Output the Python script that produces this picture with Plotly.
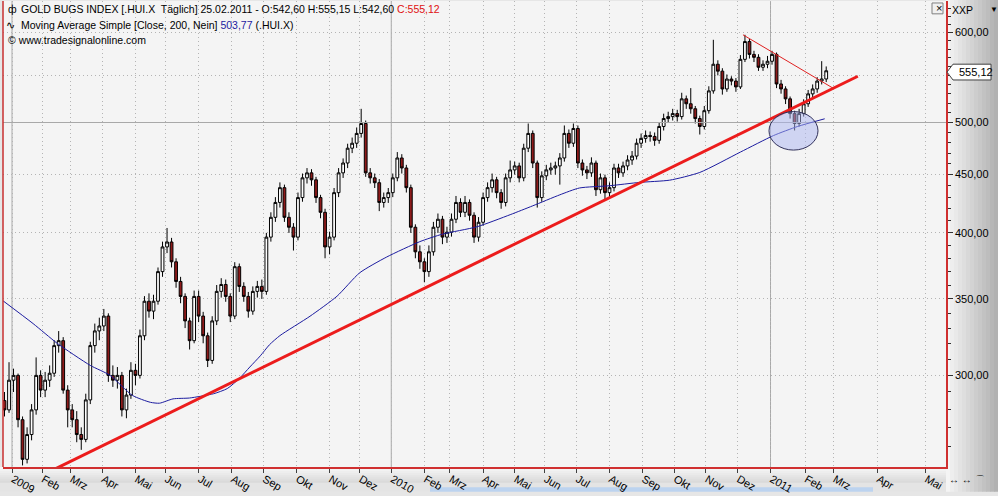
import numpy as np
import plotly.graph_objects as go

# ---------------- data ----------------
# bars: one candle per 3 trading days, starting at trading day -5 (late Dec 2008)
first_bar_day = -5
bar_step = 3
first_open = 285.0
closes = [279.7, 297.0, 299.9, 274.2, 253.1, 266.1, 279.7, 299.9, 291.1, 297.0,
          301.2, 318.5, 321.7, 291.1, 279.7, 274.2, 266.1, 263.5, 285.4, 318.5,
          328.1, 331.4, 338.1, 299.9, 297.0, 299.9, 279.7, 288.2, 303.0, 299.9,
          324.9, 348.4, 341.5, 348.4, 369.9, 388.8, 392.7, 377.3, 362.6, 351.8,
          334.8, 321.7, 351.8, 338.1, 324.9, 309.1, 334.8, 355.4, 360.4, 351.8,
          338.1, 373.6, 359.0, 351.8, 341.5, 355.4, 359.0, 355.4, 396.6, 412.8,
          425.4, 438.3, 412.8, 404.6, 396.6, 429.6, 447.1, 451.6, 445.3, 429.6,
          417.0, 388.8, 396.6, 433.9, 451.6, 460.7, 474.7, 479.5, 489.1, 499.0,
          451.6, 447.1, 442.7, 425.4, 429.6, 433.9, 447.1, 465.4, 456.1, 438.3,
          404.6, 385.0, 377.3, 369.9, 385.0, 404.6, 411.2, 396.6, 400.6, 411.2,
          425.4, 417.0, 425.4, 414.5, 396.6, 408.7, 429.6, 438.3, 445.3, 433.9,
          425.4, 447.1, 454.3, 458.0, 447.1, 474.7, 489.1, 460.7, 429.6, 448.9,
          454.3, 456.1, 458.0, 465.4, 489.1, 479.5, 494.0, 460.7, 454.3, 451.6,
          460.7, 436.5, 447.1, 433.9, 438.3, 456.1, 451.6, 458.0, 463.5, 467.2,
          479.5, 484.2, 487.1, 486.1, 482.3, 496.0, 504.0, 506.0, 509.1, 506.0,
          524.5, 519.3, 514.1, 504.0, 496.0, 512.1, 533.0, 562.5, 554.7, 535.1,
          545.9, 543.7, 537.3, 568.1, 588.9, 573.8, 570.4, 559.1, 562.5, 565.9,
          573.8, 540.5, 535.1, 524.5, 509.1, 499.0, 509.1, 519.3, 529.8, 535.1,
          543.7, 546.0, 555.12]
highs = [290, 308, 304, 301, 276, 270, 283, 311, 303, 302,
         306, 322, 328, 324, 294, 283, 279, 270, 289, 321,
         333, 337, 343, 340, 306, 305, 302, 292, 308, 307,
         329, 352, 354, 353, 373, 393, 404, 396, 380, 366,
         354, 337, 356, 356, 341, 327, 338, 360, 365, 364,
         354, 377, 376, 362, 355, 359, 363, 364, 400, 417,
         430, 443, 441, 417, 408, 434, 451, 456, 455, 448,
         432, 420, 401, 438, 456, 465, 479, 485, 495, 514,
         502, 456, 451, 446, 434, 438, 451, 471, 469, 459,
         441, 407, 390, 380, 390, 409, 416, 414, 405, 416,
         431, 429, 431, 428, 417, 413, 434, 443, 451, 448,
         437, 451, 463, 462, 461, 479, 499, 492, 463, 453,
         459, 461, 462, 470, 497, 493, 499, 497, 464, 458,
         466, 463, 451, 450, 443, 460, 460, 462, 468, 472,
         484, 489, 492, 491, 490, 500, 509, 511, 514, 513,
         531, 528, 536, 517, 507, 517, 538, 591, 567, 558,
         551, 549, 547, 573, 597, 592, 578, 574, 567, 572,
         578, 576, 545, 538, 527, 512, 514, 524, 534, 540,
         548, 566, 560]
lows = [276, 278, 290, 270, 250, 251, 263, 277, 287, 287,
        293, 299, 314, 289, 270, 270, 262, 258, 262, 283,
        314, 322, 328, 296, 293, 292, 276, 275, 286, 294,
        298, 322, 337, 336, 346, 366, 384, 373, 358, 347,
        330, 316, 320, 334, 320, 305, 307, 332, 351, 348,
        334, 336, 355, 348, 337, 339, 351, 350, 353, 393,
        409, 421, 409, 400, 386, 394, 426, 442, 440, 425,
        412, 380, 383, 394, 430, 447, 456, 470, 475, 485,
        448, 442, 438, 418, 421, 425, 430, 444, 451, 434,
        400, 380, 372, 362, 366, 382, 400, 391, 392, 397,
        408, 413, 413, 410, 392, 393, 406, 426, 434, 429,
        420, 422, 443, 450, 443, 444, 471, 456, 421, 426,
        445, 450, 450, 441, 462, 475, 476, 456, 449, 446,
        448, 431, 433, 428, 430, 435, 447, 448, 454, 459,
        464, 475, 480, 481, 477, 479, 492, 500, 502, 501,
        503, 514, 509, 499, 488, 493, 509, 530, 550, 529,
        532, 539, 532, 535, 565, 569, 565, 555, 555, 558,
        562, 536, 530, 519, 504, 492, 496, 506, 516, 525,
        531, 540, 542.6]

# 200-day simple moving average (trading day, value)
ma_day = [-7, 14, 30, 52, 65, 80, 92, 98, 107, 118, 134, 143, 151, 158, 165, 171, 178,
          198, 216, 231, 249, 271, 286, 309, 331, 346, 364, 377, 397, 417, 437, 457,
          484, 506, 522, 540]
ma_val = [349.5, 333, 320, 306, 300, 288, 284, 283.5, 286, 286.5, 289, 292, 298, 305,
          312, 319, 325, 338, 352, 369, 381, 393, 399, 405, 415, 422.5, 432, 438, 440,
          443, 445, 452, 471, 487, 496, 503.77]

# drawn trend lines
trend_day = [28, 562]
trend_val = [248.0, 549.0]
down_day = [485.7, 545.5]
down_val = [597.0, 536.0]
hline_day = [-6, 620.6]
hline_val = [500, 500]

# axis ticks
month_day = [0, 20, 39, 60, 82, 102, 124, 146, 167, 189, 211, 231, 252, 274, 291, 313,
             334, 354, 375, 397, 419, 440, 461, 482, 504, 527, 546, 575, 607]
month_lbl = ["2009", "Feb", "Mrz", "Apr", "Mai", "Jun", "Jul", "Aug", "Sep", "Okt", "Nov",
             "Dez", "2010", "Feb", "Mrz", "Apr", "Mai", "Jun", "Jul", "Aug", "Sep", "Okt",
             "Nov", "Dez", "2011", "Feb", "Mrz", "Apr", "Mai"]
year_day = [0, 252, 504]
y_ticks = [300, 350, 400, 450, 500, 550, 600]
y_lbl = ["300,00", "350,00", "400,00", "450,00", "500,00", "", "600,00"]
y_minor = [260, 270, 280, 290, 310, 320, 330, 340, 360, 370, 380, 390, 410, 420, 430, 440,
           460, 470, 480, 490, 510, 520, 530, 540, 560, 570, 580, 590, 610, 620, 630]
last_close = 555.12
last_lbl = "555,12"

# ---------------- figure ----------------
W, H = 998, 496
ML, MR, MT, MB = 3, 52, 1, 23
PW, PH = W - ML - MR, H - MT - MB


def px(x):
    return (x - ML) / PW


def py(y):
    return 1 - (y - MT) / PH


bar_x = first_bar_day + bar_step * np.arange(len(closes))
opens = [first_open] + closes[:-1]

fig = go.Figure()
fig.add_trace(go.Scatter(x=hline_day, y=hline_val, mode="lines",
                         line=dict(color="#a8a8a8", width=1), showlegend=False, hoverinfo="skip"))
fig.add_trace(go.Candlestick(
    x=bar_x, open=opens, high=highs, low=lows, close=closes,
    increasing=dict(line=dict(color="black", width=1), fillcolor="white"),
    decreasing=dict(line=dict(color="black", width=1), fillcolor="#8e1a1a"),
    whiskerwidth=0, showlegend=False, hoverinfo="skip"))
fig.add_trace(go.Scatter(x=ma_day, y=ma_val, mode="lines",
                         line=dict(color="#1c1ca0", width=1, shape="spline", smoothing=0.6),
                         showlegend=False, hoverinfo="skip"))
fig.add_trace(go.Scatter(x=trend_day, y=trend_val, mode="lines",
                         line=dict(color="#ec1c1c", width=3), showlegend=False, hoverinfo="skip"))
fig.add_trace(go.Scatter(x=down_day, y=down_val, mode="lines",
                         line=dict(color="#e02020", width=1), showlegend=False, hoverinfo="skip"))

shapes = []
# gradient right panel
n = 13
for i in range(n):
    v = int(244 - i * (244 - 178) / (n - 1))
    x0 = 946 + i * 4
    shapes.append(dict(type="rect", xref="paper", yref="paper", layer="below",
                       x0=px(x0), x1=px(x0 + 4.5), y0=py(H + 2), y1=py(-2),
                       line=dict(width=0), fillcolor=f"rgb({v},{v},{v})"))
# bottom band
for i in range(8):
    v = int(246 - i * 4)
    y0 = 473 + i * 2
    shapes.append(dict(type="rect", xref="paper", yref="paper", layer="below",
                       x0=px(-2), x1=px(946), y0=py(y0 + 2.5), y1=py(y0),
                       line=dict(width=0), fillcolor=f"rgb({v},{v},{v})"))
shapes.append(dict(type="rect", xref="paper", yref="paper", layer="below",
                   x0=px(-2), x1=px(946), y0=py(H + 2), y1=py(489),
                   line=dict(width=0), fillcolor="#e4e4e4"))
shapes.append(dict(type="rect", xref="paper", yref="paper", layer="below",
                   x0=px(430), x1=px(873), y0=py(H + 2), y1=py(493.5),
                   line=dict(width=0), fillcolor="#bcd3ef"))
# solid year lines
for d in year_day:
    shapes.append(dict(type="line", xref="x", yref="paper", layer="below",
                       x0=d, x1=d, y0=0, y1=1, line=dict(color="#a8a8a8", width=1)))
# ellipse (drawn marking)
shapes.append(dict(type="circle", xref="paper", yref="paper", layer="above",
                   x0=px(769), x1=px(818), y0=py(152), y1=py(113),
                   line=dict(color="#30305a", width=1),
                   fillcolor="rgba(170,180,240,0.5)"))
# left border
shapes.append(dict(type="line", xref="paper", yref="paper", x0=0, x1=0, y0=0, y1=1,
                   line=dict(color="#c83030", width=1.5)))
# price marker
ym = py(73)
path = (f"M {px(947)} {ym} L {px(953)} {py(65)} L {px(991)} {py(65)} "
        f"L {px(991)} {py(81)} L {px(953)} {py(81)} Z")
shapes.append(dict(type="path", xref="paper", yref="paper", path=path,
                   line=dict(color="#404040", width=1), fillcolor="white"))
# close box
shapes.append(dict(type="rect", xref="paper", yref="paper",
                   x0=px(932), x1=px(943), y0=py(14), y1=py(3),
                   line=dict(color="#808080", width=1), fillcolor="#f0f0f0"))

F = "Liberation Sans"
ann = []
hdr = ("GOLD BUGS INDEX [.HUI.X  Täglich] 25.02.2011 - O:542,60 H:555,15 L:542,60 "
       "<span style='color:#e01010'>C:555,12</span>")
ann.append(dict(text="ф", x=px(6), y=py(9)))
ann.append(dict(text=hdr, x=px(19), y=py(9)))
ann.append(dict(text="∿", x=px(4), y=py(25)))
ann.append(dict(text="Moving Average Simple [Close, 200, Nein] "
                     "<span style='color:#1c1ca0'>503,77</span> (.HUI.X)", x=px(19), y=py(25)))
ann.append(dict(text="© www.tradesignalonline.com", x=px(6), y=py(41)))
ann.append(dict(text="XXP", x=px(950), y=py(10)))
ann.append(dict(text="▼", x=px(988), y=py(10), size=8))
ann.append(dict(text="×", x=px(933.5), y=py(8.5), size=11))
ann.append(dict(text=last_lbl, x=px(957), y=py(73), size=11))
ann.append(dict(text="↔ ↔ ⌒", x=px(947), y=py(486), size=10))
annotations = []
for a in ann:
    annotations.append(dict(text=a["text"], x=a["x"], y=a["y"], xref="paper", yref="paper",
                            xanchor="left", yanchor="middle", showarrow=False,
                            font=dict(family=F, size=a.get("size", 10.5), color="black")))

fig.update_layout(
    width=W, height=H, margin=dict(l=ML, r=MR, t=MT, b=MB),
    paper_bgcolor="#e6e6e6", plot_bgcolor="#f4f4f4",
    font=dict(family=F, size=11, color="black"),
    boxgap=0.12,
    showlegend=False, shapes=shapes, annotations=annotations,
    xaxis=dict(range=[-6, 620.6], tickmode="array", tickvals=month_day, ticktext=month_lbl,
               ticks="outside", ticklen=4, tickcolor="#404040", ticklabelposition="outside right",
               showgrid=True, gridcolor="#b4b4b4", griddash="1px,3px", gridwidth=1,
               showline=True, linecolor="#d03030", linewidth=1.5, mirror=False,
               zeroline=False, rangeslider=dict(visible=False), fixedrange=True,
               tickfont=dict(family=F, size=11)),
    yaxis=dict(type="log", range=[np.log10(249.2), np.log10(639.2)], side="right",
               tickmode="array", tickvals=y_ticks, ticktext=y_lbl,
               ticks="outside", ticklen=5, tickcolor="#303030",
               minor=dict(tickvals=y_minor, ticks="outside", ticklen=3, tickcolor="#303030",
                          showgrid=False),
               showgrid=True, gridcolor="#b4b4b4", griddash="1px,3px", gridwidth=1,
               showline=True, linecolor="#d03030", linewidth=1.5, mirror=False,
               zeroline=False, fixedrange=True, tickfont=dict(family=F, size=11)),
)

fig.write_html("out.html")
